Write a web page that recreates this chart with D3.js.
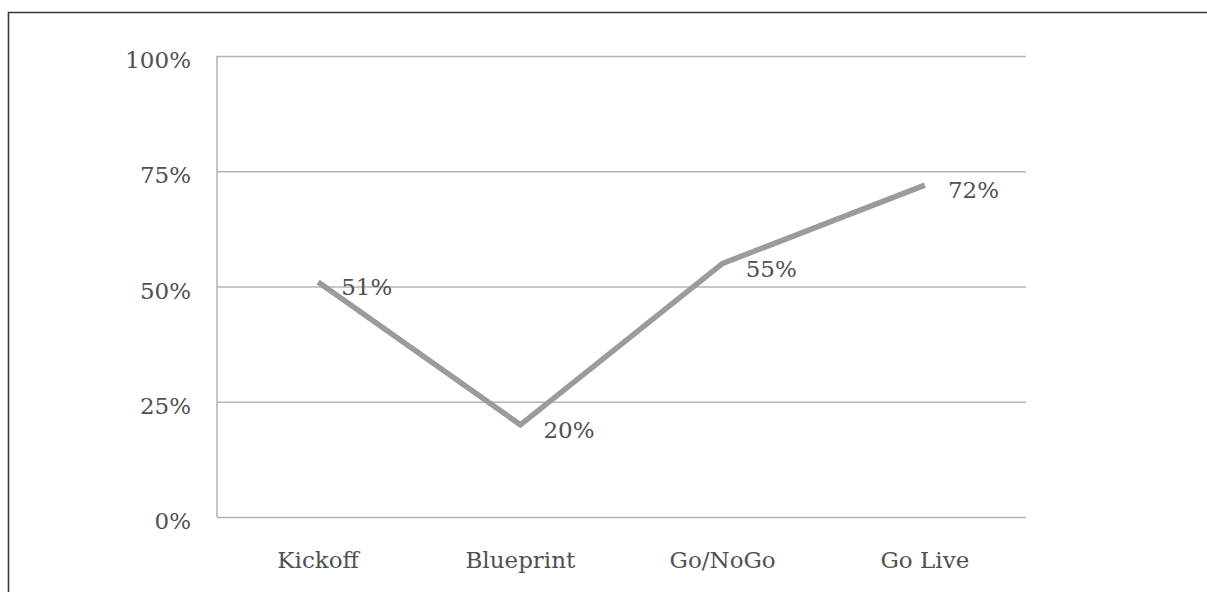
<!DOCTYPE html>
<html>
<head>
<meta charset="utf-8">
<script src="https://cdn.jsdelivr.net/npm/d3@7"></script>
<style>
  html, body { margin: 0; padding: 0; background: #fff; }
  svg { display: block; }
</style>
</head>
<body>
<svg id="chart" width="1207" height="592"></svg>
<script>
// Milestone completion by project phase
const phases = ["Kickoff", "Blueprint", "Go/NoGo", "Go Live"];
const completion = [0.51, 0.20, 0.55, 0.72];
const yTicks = [0, 0.25, 0.5, 0.75, 1];

const W = 1207, H = 592;
const margin = { left: 217, right: 181, top: 56, bottom: 75 };
const font = "DejaVu Serif";
const fontSize = 23;
const textColor = "#505050";

const svg = d3.select("#chart");

// outer frame
svg.append("path")
  .attr("d", `M8.5,${H} V12.5 H${W}`)
  .attr("fill", "none")
  .attr("stroke", "#3a3a3a")
  .attr("stroke-width", 1.6);

const x = d3.scaleBand()
  .domain(phases)
  .range([margin.left, W - margin.right]);

const y = d3.scaleLinear()
  .domain([0, 1])
  .range([H - margin.bottom, margin.top]);

// horizontal gridlines and y labels
const yAxis = d3.axisLeft(y)
  .tickValues(yTicks)
  .tickFormat(d3.format(".0%"))
  .tickSize(-(W - margin.left - margin.right))
  .tickPadding(26);

const gy = svg.append("g")
  .attr("transform", `translate(${margin.left},0)`)
  .call(yAxis);
gy.select(".domain").remove();
gy.selectAll(".tick line")
  .attr("stroke", "#b4b4b4")
  .attr("stroke-width", 1.6);
gy.selectAll(".tick text")
  .attr("fill", textColor)
  .attr("font-family", font)
  .attr("font-size", fontSize)
  .attr("dy", "0.5em");

// left axis line
svg.append("line")
  .attr("x1", margin.left).attr("x2", margin.left)
  .attr("y1", y(1)).attr("y2", y(0))
  .attr("stroke", "#b4b4b4")
  .attr("stroke-width", 1.6);

// category labels
const xAxis = d3.axisBottom(x).tickSize(0).tickPadding(35);
const gx = svg.append("g")
  .attr("transform", `translate(0,${y(0)})`)
  .call(xAxis);
gx.select(".domain").remove();
gx.selectAll(".tick text")
  .attr("fill", textColor)
  .attr("font-family", font)
  .attr("font-size", fontSize);

const cx = d => x(d) + x.bandwidth() / 2;

// series line
const line = d3.line()
  .x((d, i) => cx(phases[i]))
  .y(d => y(d));

svg.append("path")
  .datum(completion)
  .attr("d", line)
  .attr("fill", "none")
  .attr("stroke", "#9b9b9b")
  .attr("stroke-width", 5.5)
  .attr("stroke-linejoin", "miter");

// value labels
svg.append("g").selectAll("text")
  .data(completion)
  .join("text")
  .attr("x", (d, i) => cx(phases[i]) + 23)
  .attr("y", d => y(d))
  .attr("dy", "0.58em")
  .attr("fill", textColor)
  .attr("font-family", font)
  .attr("font-size", fontSize)
  .text(d3.format(".0%"));
</script>
</body>
</html>
